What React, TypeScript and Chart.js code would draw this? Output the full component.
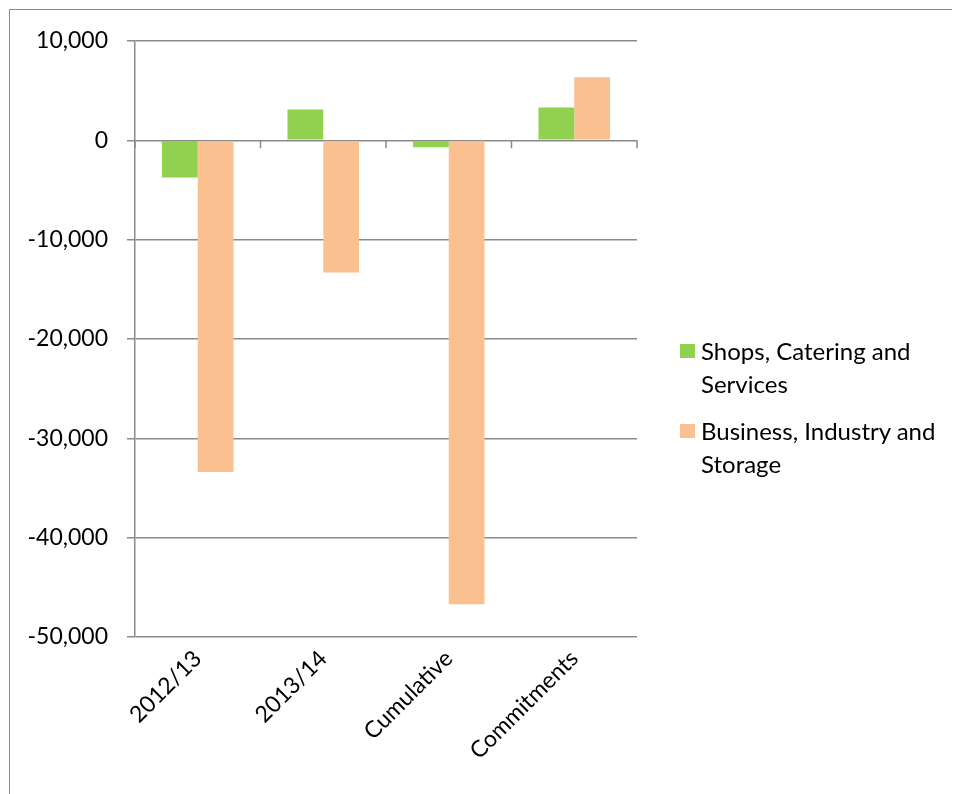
import React, { useEffect, useRef } from 'react';
import { Chart, ChartConfiguration, Plugin, registerables } from 'chart.js';

Chart.register(...registerables);

const categories = ['2012/13', '2013/14', 'Cumulative', 'Commitments'];
const shopsValues = [-3750, 3100, -700, 3300];
const businessValues = [-33400, -13300, -46700, 6350];
const seriesNames = [['Shops, Catering and', 'Services'], ['Business, Industry and', 'Storage']];
const seriesColors = ['#92D050', '#FAC090'];

const FONT = 'Lato, "Open Sans", sans-serif';
const GRID = '#8a8a8a';

// small category ticks on the zero line, like Excel's crossing axis
const zeroTicks: Plugin<'bar'> = {
  id: 'zeroTicks',
  afterDraw(chart) {
    const x = chart.scales.x;
    const y = chart.scales.y;
    const y0 = y.getPixelForValue(0);
    const half = (x.getPixelForValue(1) - x.getPixelForValue(0)) / 2;
    const ctx = chart.ctx;
    ctx.save();
    ctx.strokeStyle = GRID;
    ctx.lineWidth = 1.5;
    ctx.beginPath();
    for (let i = 0; i <= categories.length; i++) {
      const px = x.getPixelForValue(i) - half;
      ctx.moveTo(px, y0);
      ctx.lineTo(px, y0 + 8);
    }
    ctx.stroke();
    ctx.restore();
  },
};

export default function App() {
  const canvasRef = useRef<HTMLCanvasElement | null>(null);
  const chartRef = useRef<Chart<'bar'> | null>(null);

  useEffect(() => {
    if (!canvasRef.current) return;
    const config: ChartConfiguration<'bar'> = {
      type: 'bar',
      data: {
        labels: categories,
        datasets: [
          { label: seriesNames[0].join(' '), data: shopsValues, backgroundColor: seriesColors[0] },
          { label: seriesNames[1].join(' '), data: businessValues, backgroundColor: seriesColors[1] },
        ],
      },
      options: {
        animation: false,
        responsive: false,
        maintainAspectRatio: false,
        layout: { padding: { left: 0, top: 33, right: 323, bottom: 0 } },
        datasets: { bar: { categoryPercentage: 0.57, barPercentage: 1 } },
        plugins: { legend: { display: false }, tooltip: { enabled: false } },
        scales: {
          x: {
            grid: { display: false, drawTicks: false },
            border: { display: false },
            ticks: {
              color: '#000',
              font: { family: FONT, size: 23 },
              minRotation: 45,
              maxRotation: 45,
              padding: 8,
            },
            afterFit: (s) => {
              s.height = 157;
            },
          },
          y: {
            min: -50000,
            max: 10000,
            grid: { color: GRID, lineWidth: 1.5, tickLength: 8 },
            border: { color: GRID, width: 1.5 },
            ticks: {
              stepSize: 10000,
              color: '#000',
              font: { family: FONT, size: 23 },
              padding: 19,
              callback: (v) => Number(v).toLocaleString('en-US'),
            },
            afterFit: (s) => {
              s.width = 127;
            },
          },
        },
      },
      plugins: [zeroTicks],
    };
    chartRef.current = new Chart(canvasRef.current, config);
    return () => {
      chartRef.current?.destroy();
    };
  }, []);

  return (
    <div style={{ position: 'relative', width: 952, height: 786, overflow: 'hidden', fontFamily: FONT }}>
      <div
        style={{
          position: 'absolute',
          left: 1,
          top: 1,
          width: 1000,
          height: 1000,
          borderLeft: '1.5px solid #8a8a8a',
          borderTop: '1.5px solid #8a8a8a',
        }}
      />
      <canvas ref={canvasRef} width={952} height={786} style={{ position: 'absolute', left: 0, top: 0 }} />
      <div style={{ position: 'absolute', left: 672, top: 326, fontSize: 24, lineHeight: '33px', color: '#000' }}>
        {seriesNames.map((lines, i) => (
          <div key={i} style={{ display: 'flex', alignItems: 'flex-start', marginBottom: i === 0 ? 14 : 0 }}>
            <span
              style={{
                display: 'inline-block',
                width: 15,
                height: 14,
                marginTop: 10,
                marginRight: 6,
                background: seriesColors[i],
              }}
            />
            <div style={{ whiteSpace: 'nowrap' }}>
              {lines.map((t) => (
                <div key={t}>{t}</div>
              ))}
            </div>
          </div>
        ))}
      </div>
    </div>
  );
}
